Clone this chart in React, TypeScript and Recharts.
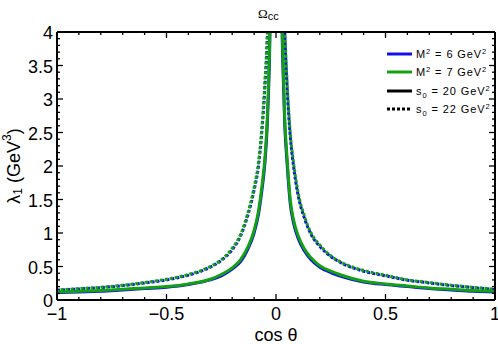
import { Legend, Line, LineChart, XAxis, YAxis } from "recharts";

// cos(theta) sample points, denser near the pole at 0
const cosTheta = [
  -1, -0.9, -0.8, -0.7, -0.6, -0.5, -0.4, -0.3, -0.25, -0.2, -0.16, -0.13, -0.1, -0.08, -0.065, -0.05, -0.04, -0.03, -0.02,
  0.02, 0.03, 0.04, 0.05, 0.065, 0.08, 0.1, 0.13, 0.16, 0.2, 0.25, 0.3, 0.4, 0.5, 0.6, 0.7, 0.8, 0.9, 1,
];

// lambda_1 (GeV^3)
const m6s20 = [
  0.11, 0.12, 0.13, 0.15, 0.17, 0.19, 0.23, 0.3, 0.36, 0.46, 0.58, 0.75, 1.0, 1.28, 1.62, 2.07, 2.6, 3.55, 5.3,
  5.3, 3.65, 2.6, 2.07, 1.44, 1.15, 0.93, 0.73, 0.6, 0.49, 0.41, 0.35, 0.27, 0.23, 0.2, 0.17, 0.15, 0.13, 0.12,
];
const m7s20 = [
  0.12, 0.13, 0.14, 0.16, 0.18, 0.2, 0.24, 0.31, 0.38, 0.48, 0.61, 0.78, 1.04, 1.33, 1.68, 2.15, 2.7, 3.7, 5.5,
  5.5, 3.8, 2.7, 2.15, 1.5, 1.2, 0.97, 0.76, 0.63, 0.51, 0.43, 0.37, 0.28, 0.24, 0.21, 0.18, 0.16, 0.14, 0.13,
];
const m6s22 = [
  0.145, 0.165, 0.185, 0.215, 0.255, 0.3, 0.37, 0.49, 0.59, 0.75, 0.97, 1.25, 1.64, 2.0, 2.5, 3.22, 3.85, 5.2, 7.8,
  7.8, 5.3, 4.0, 3.22, 2.45, 2.0, 1.58, 1.22, 0.98, 0.8, 0.65, 0.55, 0.43, 0.36, 0.295, 0.255, 0.215, 0.185, 0.155,
];
const m7s22 = [
  0.15, 0.17, 0.19, 0.22, 0.26, 0.31, 0.38, 0.5, 0.6, 0.77, 0.99, 1.28, 1.68, 2.05, 2.55, 3.3, 3.95, 5.3, 8,
  8, 5.4, 4.1, 3.3, 2.5, 2.05, 1.62, 1.25, 1.0, 0.82, 0.66, 0.56, 0.44, 0.37, 0.3, 0.26, 0.22, 0.19, 0.16,
];

const xTicks = [
  -1, -0.9, -0.8, -0.7, -0.6, -0.5, -0.4, -0.3, -0.2, -0.1, 0, 0.1, 0.2, 0.3, 0.4, 0.5, 0.6, 0.7, 0.8, 0.9, 1,
];
const yTicks = [
  0, 0.1, 0.2, 0.3, 0.4, 0.5, 0.6, 0.7, 0.8, 0.9, 1, 1.1, 1.2, 1.3, 1.4, 1.5, 1.6, 1.7, 1.8, 1.9, 2, 2.1, 2.2, 2.3,
  2.4, 2.5, 2.6, 2.7, 2.8, 2.9, 3, 3.1, 3.2, 3.3, 3.4, 3.5, 3.6, 3.7, 3.8, 3.9, 4,
];

const BLUE = "#1010ec";
const GREEN = "#13a013";
const FONT = "'Liberation Sans', Arial, sans-serif";

const data = cosTheta.map((x, i) => ({
  x,
  m6s20: m6s20[i],
  m7s20: m7s20[i],
  m6s22: m6s22[i],
  m7s22: m7s22[i],
}));

const isMajor = (v: number) => Math.abs(v * 2 - Math.round(v * 2)) < 1e-6;
const fmt = (v: number) => (v < 0 ? "\u2212" + String(-v) : String(v));

function BottomTick({ x, y, payload }: any) {
  const v = payload.value;
  const major = isMajor(v);
  return (
    <g>
      <line x1={x} x2={x} y1={y} y2={y - (major ? 6 : 3)} stroke="#000" strokeWidth={1.3} />
      {major && (
        <text x={x} y={y + 7} dy="0.71em" textAnchor="middle" fontSize={18} fill="#000" fontFamily={FONT}>
          {fmt(v)}
        </text>
      )}
    </g>
  );
}

function TopTick({ x, y, payload }: any) {
  const len = isMajor(payload.value) ? 6 : 3;
  return <line x1={x} x2={x} y1={y} y2={y + len} stroke="#000" strokeWidth={1.3} />;
}

function LeftTick({ x, y, payload }: any) {
  const v = payload.value;
  const major = isMajor(v);
  return (
    <g>
      <line x1={x} x2={x + (major ? 6 : 3)} y1={y} y2={y} stroke="#000" strokeWidth={1.3} />
      {major && (
        <text x={x - 4} y={y} dy="0.4em" textAnchor="end" fontSize={18} fill="#000" fontFamily={FONT}>
          {fmt(v)}
        </text>
      )}
    </g>
  );
}

function RightTick({ x, y, payload }: any) {
  const len = isMajor(payload.value) ? 6 : 3;
  return <line x1={x} x2={x - len} y1={y} y2={y} stroke="#000" strokeWidth={1.3} />;
}

const legendItems = [
  { sym: "M", sup: "2", sub: "", rest: " = 6 GeV", color: BLUE, dash: undefined },
  { sym: "M", sup: "2", sub: "", rest: " = 7 GeV", color: GREEN, dash: undefined },
  { sym: "s", sup: "", sub: "0", rest: " = 20 GeV", color: "#000", dash: undefined },
  { sym: "s", sup: "", sub: "0", rest: " = 22 GeV", color: "#000", dash: "3 2" },
];

function LegendBox() {
  return (
    <div style={{ fontFamily: FONT, fontSize: 11, color: "#000", letterSpacing: 0.9 }}>
      {legendItems.map((it) => (
        <div key={it.rest} style={{ display: "flex", alignItems: "center", height: 18.3 }}>
          <svg width={25} height={4} style={{ display: "block" }}>
            <line x1={0} x2={25} y1={2} y2={2} stroke={it.color} strokeWidth={3} strokeDasharray={it.dash} />
          </svg>
          <span style={{ marginLeft: 4, whiteSpace: "nowrap" }}>
            {it.sym}
            {it.sup && <span style={{ fontSize: 7.5, position: "relative", top: -4 }}>{it.sup}</span>}
            {it.sub && <span style={{ fontSize: 7.5, position: "relative", top: 3 }}>{it.sub}</span>}
            {it.rest}
            <span style={{ fontSize: 7.5, position: "relative", top: -4 }}>2</span>
          </span>
        </div>
      ))}
    </div>
  );
}

export default function App() {
  return (
    <div style={{ position: "absolute", left: 0, top: 0, width: 498, height: 344, background: "#fff" }}>
      <LineChart width={498} height={344} data={data} margin={{ top: 31, right: 2, bottom: 0, left: 0 }}>
        <XAxis
          xAxisId="x"
          dataKey="x"
          type="number"
          domain={[-1, 1]}
          allowDataOverflow
          ticks={xTicks}
          interval={0}
          height={44}
          tickSize={0}
          tickMargin={0}
          tickLine={false}
          tick={<BottomTick />}
          axisLine={{ stroke: "#000", strokeWidth: 2 }}
          label={({ viewBox }: any) => (
            <text
              x={viewBox.x + viewBox.width / 2}
              y={viewBox.y + 41}
              textAnchor="middle"
              fontSize={18}
              fontFamily={FONT}
              fill="#000"
            >
              cos θ
            </text>
          )}
        />
        <XAxis
          xAxisId="t"
          dataKey="x"
          orientation="top"
          type="number"
          domain={[-1, 1]}
          allowDataOverflow
          ticks={xTicks}
          interval={0}
          height={1}
          tickSize={0}
          tickMargin={0}
          tickLine={false}
          tick={<TopTick />}
          axisLine={{ stroke: "#000", strokeWidth: 2 }}
        />
        <YAxis
          yAxisId="y"
          type="number"
          domain={[0, 4]}
          allowDataOverflow
          ticks={yTicks}
          interval={0}
          width={57}
          tickSize={0}
          tickMargin={0}
          tickLine={false}
          tick={<LeftTick />}
          axisLine={{ stroke: "#000", strokeWidth: 2 }}
          label={({ viewBox }: any) => {
            const cx = viewBox.x + 14;
            const cy = viewBox.y + viewBox.height / 2;
            return (
              <text
                x={cx}
                y={cy}
                transform={`rotate(-90 ${cx} ${cy})`}
                textAnchor="middle"
                dominantBaseline="central"
                fontSize={18}
                fontFamily={FONT}
                fill="#000"
              >
                λ
                <tspan fontSize={12} dy={4}>
                  1
                </tspan>
                <tspan dy={-4}> (GeV</tspan>
                <tspan fontSize={12} dy={-7}>
                  3
                </tspan>
                <tspan dy={7}>)</tspan>
              </text>
            );
          }}
        />
        <YAxis
          yAxisId="r"
          orientation="right"
          type="number"
          domain={[0, 4]}
          allowDataOverflow
          ticks={yTicks}
          interval={0}
          width={1}
          tickSize={0}
          tickMargin={0}
          tickLine={false}
          tick={<RightTick />}
          axisLine={{ stroke: "#000", strokeWidth: 2 }}
        />
        <Legend
          layout="vertical"
          align="center"
          verticalAlign="middle"
          wrapperStyle={{ left: 387, top: 45, width: 110 }}
          content={() => <LegendBox />}
        />
        <Line xAxisId="x" yAxisId="y" type="monotone" dataKey="m6s20" stroke={BLUE} strokeWidth={3} dot={false} isAnimationActive={false} />
        <Line xAxisId="x" yAxisId="y" type="monotone" dataKey="m6s22" stroke={BLUE} strokeWidth={3} strokeDasharray="3 2" dot={false} isAnimationActive={false} />
        <Line xAxisId="x" yAxisId="y" type="monotone" dataKey="m7s20" stroke={GREEN} strokeWidth={3} dot={false} isAnimationActive={false} />
        <Line xAxisId="t" yAxisId="r" type="monotone" dataKey="m7s22" stroke={GREEN} strokeWidth={3} strokeDasharray="3 2" strokeDashoffset={1.5} dot={false} isAnimationActive={false} />
      </LineChart>
      <svg width={498} height={30} style={{ position: "absolute", left: 0, top: 0, pointerEvents: "none" }}>
        <text x={258} y={18.3} fill="#000" fontFamily={FONT}>
          <tspan fontFamily="'Liberation Serif', serif" fontSize={13}>
            Ω
          </tspan>
          <tspan fontSize={11} dy={1.5}>
            cc
          </tspan>
        </text>
      </svg>
    </div>
  );
}
